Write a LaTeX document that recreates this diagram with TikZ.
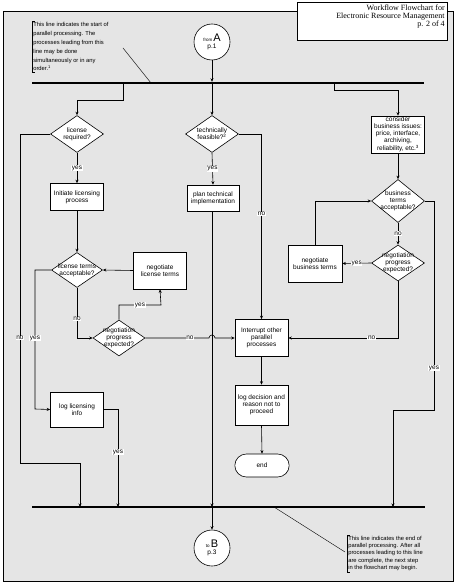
\documentclass[tikz,border=0pt]{standalone}
\usepackage{fontspec}
\setmainfont{Liberation Sans}
\newfontfamily\titlefont{Liberation Serif}
\usetikzlibrary{arrows.meta,shapes.geometric,shapes.misc}

\begin{document}
\begin{tikzpicture}[x=1pt,y=-1pt,>={Stealth[length=3.5pt,width=3pt]},semithick,
 font=\fontsize{6.5}{7.3}\selectfont,
 box/.style={draw,fill=white,minimum width=53pt,minimum height=27pt,inner sep=0.5pt,align=center},
 dec/.style={draw,fill=white,diamond,minimum width=53pt,minimum height=37pt,inner sep=0pt},
 dtext/.style={align=center,inner sep=0pt},
 lab/.style={fill=white,inner sep=0.6pt},
 conn/.style={circle,draw,fill=white,minimum size=36pt,inner sep=0pt,align=center},
 bar/.style={line width=2.4pt},
 note/.style={anchor=north west,align=left,inner sep=1pt}]
\useasboundingbox (0,0) rectangle (456,585);
\draw[fill=gray!20] (3,11) rectangle (453,581);
% title
\node[draw,fill=white,minimum width=150pt,minimum height=38pt] (title) at (372,21) {};
\node[anchor=north east,align=right,inner sep=0pt,font=\titlefont\fontsize{8}{7.6}\selectfont] (ttext) at (445,5)
 {Workflow Flowchart for\\Electronic Resource Management\\p. 2 of 4};
% bars
\coordinate (barT) at (32,83);
\coordinate (barTe) at (424,83);
\coordinate (barB) at (32,507);
\coordinate (barBe) at (425,507);
\draw[bar] (barT) -- (barTe);
\draw[bar] (barB) -- (barBe);
% notes
\node[note,font=\fontsize{5.8}{8.9}\selectfont] (noteT) at (32,21) {This line indicates the start of\\parallel processing.  The\\processes leading from this\\line may be done\\simultaneously or in any\\order.\textsuperscript{1}};
\draw ([xshift=3pt]noteT.north west) -- (noteT.north west) -- (noteT.south west) -- ++(3,0);
\coordinate (lt) at (123,48);
\coordinate (tT) at (151,83);
\draw[thin] (lt) -- (tT);
\node[note,font=\fontsize{5.8}{7.2}\selectfont] (noteB) at (347,535) {This line indicates the end of\\parallel processing.  After all\\processes leading to this line\\are complete, the next step\\in the flowchart may begin.};
\draw ([xshift=3pt]noteB.north west) -- (noteB.north west) -- (noteB.south west) -- ++(3,0);
\coordinate (lb) at (345,552);
\coordinate (bB) at (274,507);
\draw[thin] (bB) -- (lb);
% connectors A and B
\node[conn] (A) at (212,42) {{\fontsize{4.5}{5}\selectfont from}\,{\fontsize{11}{11}\selectfont A}\\[-1pt]p.1};
\node[conn] (B) at (212,548) {{\fontsize{4.5}{5}\selectfont to}\,{\fontsize{11}{11}\selectfont B}\\[-1pt]p.3};
% left column: licensing
\node[dec,label={[dtext]center:{license\\required?}}] (lreq) at (77,134) {};
\node[box] (lic) at (77,197) {Initiate licensing\\process};
\node[dec,minimum width=51pt,minimum height=35pt,label={[dtext]center:{license terms\\acceptable?}}] (lterms) at (77,270) {};
\node[box,minimum height=37pt] (neglic) at (160,270.5) {negotiate\\license terms};
\node[dec,minimum width=52pt,minimum height=36pt,label={[dtext]center:{negotiation\\progress\\expected?}}] (lneg) at (119,338) {};
\node[box,minimum height=35pt] (loglic) at (77,409.5) {log licensing\\info};
% middle column: technical
\node[dec,label={[dtext]center:{technically\\feasible?\textsuperscript{2}}}] (tech) at (212,134) {};
\node[box,minimum width=52pt,minimum height=26pt] (plan) at (213,198) {plan technical\\implementation};
\node[box,minimum height=37pt] (intr) at (261.5,338) {Interrupt other\\parallel\\processes};
\node[box,minimum height=40pt] (logdec) at (261.5,405) {log decision and\\reason not to\\proceed};
\node[draw,fill=white,rounded rectangle,minimum width=61pt,minimum height=23pt] (stop) at (262,465.5) {end};
% right column: business
\node[box,minimum height=37pt,inner sep=0pt,font=\fontsize{6.5}{7}\selectfont] (biz) at (398,134.5) {consider\\business issues:\\price, interface,\\archiving,\\reliability, etc.\textsuperscript{3}};
\node[dec,minimum height=43pt,label={[dtext]center:{business\\terms\\acceptable?}}] (bizok) at (398,201) {};
\node[dec,minimum height=36pt,label={[dtext]center:{negotiation\\progress\\expected?}}] (bizneg) at (398,263) {};
\node[box,minimum width=54pt,minimum height=37pt] (negbiz) at (315,263.5) {negotiate\\business terms};
% points on the bars
\coordinate (t1) at (123,83);
\coordinate (t3) at (334,83);
\coordinate (b1) at (80,507);
\coordinate (b2) at (118,507);
\coordinate (b3) at (212,507);
\coordinate (b4) at (393,507);
% bends
\coordinate (nL) at (20,463);
\coordinate (yL) at (35,409);
\coordinate (yN) at (161,305);
\coordinate (yR) at (434,410);
\coordinate (hop) at (209,338);
% flow
\draw[->,shorten >=1.2pt] (A) -- (A |- barT);
\draw[->] (t1) -- ++(0,17) -| (lreq.north);
\draw[->] (A |- barT) -- (tech.north);
\draw[->] (t3) -- ++(0,7) -| (biz.north);
\draw[->] (lreq.south) -- node[lab]{yes} (lic.north);
\draw[->] (lreq.west) -| (nL) node[lab,pos=0.81]{no} -| (b1);
\draw[->] (lic.south) -- (lterms.north);
\draw[->] (lterms.west) -| (yL) node[lab,pos=0.745]{yes} -- (loglic.west);
\draw[->] (loglic.east) -| (b2) node[lab,pos=0.72]{yes};
\draw[->] (lterms.south) |- (lneg.west) node[lab,pos=0.31]{no};
\draw[->] (lneg.north) |- (yN) node[lab,pos=0.75]{yes} -- (neglic.south);
\draw[->] (neglic.west) -- (lterms.east);
\draw[->] (lneg.east) -- node[lab,pos=0.7]{no} (hop) arc[start angle=180,end angle=0,radius=3pt] -- (intr.west);
\draw[->] (tech.south) -- node[lab]{yes} (plan.north);
\draw[->] (tech.east) -| (intr.north) node[lab,pos=0.716]{no};
\draw[->] (plan.south -| b3) -- (b3);
\draw[->] (b3) -- (B);
\draw[->] (intr.south) -- (logdec.north);
\draw[->] (logdec.south) -- (stop.north);
\draw[->] (biz.south) -- (bizok.north);
\draw[->] (bizok.east) -| (yR) node[lab,pos=0.9]{yes} -| (b4);
\draw[->] (bizok.south) -- node[lab]{no} (bizneg.north);
\draw[->] (bizneg.west) -- node[lab]{yes} (negbiz.east);
\draw[->] (negbiz.north) |- (bizok.west);
\draw[->] (bizneg.south) |- (intr.east) node[lab,pos=0.62]{no};
\end{tikzpicture}
\end{document}
